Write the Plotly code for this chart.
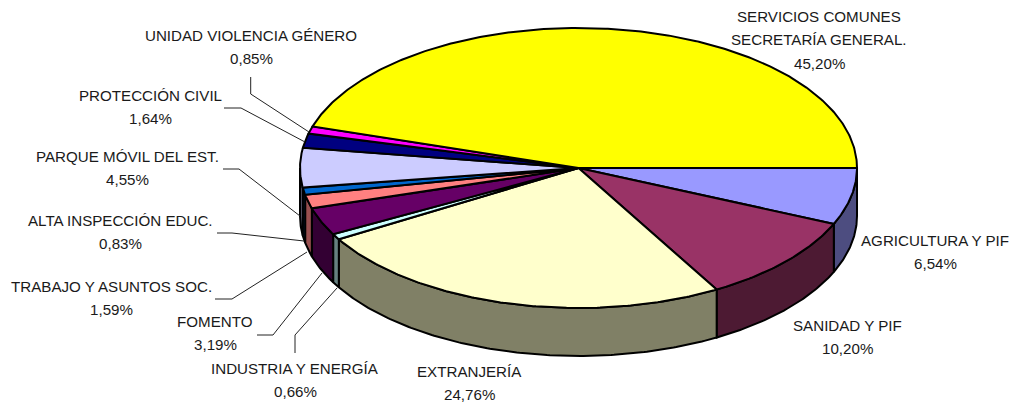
import math
import plotly.graph_objects as go

# Data, clockwise from the 3 o'clock position
categories = ["AGRICULTURA Y PIF", "SANIDAD Y PIF", "EXTRANJERÍA", "INDUSTRIA Y ENERGÍA", "FOMENTO",
              "TRABAJO Y ASUNTOS SOC.", "ALTA INSPECCIÓN EDUC.", "PARQUE MÓVIL DEL EST.",
              "PROTECCIÓN CIVIL", "UNIDAD VIOLENCIA GÉNERO", "SERVICIOS COMUNES|SECRETARÍA GENERAL."]
values = [6.54, 10.20, 24.76, 0.66, 3.19, 1.59, 0.83, 4.55, 1.64, 0.85, 45.20]

top_colors = ["#9999FF", "#993366", "#FFFFCC", "#CCFFFF", "#660066", "#FF8080", "#0066CC", "#CCCCFF",
              "#000080", "#FF00FF", "#FFFF00"]
side_colors = ["#4D4D80", "#4D1A33", "#808066", "#668080", "#330033", "#995050", "#003366", "#666680",
               "#000040", "#800080", "#808000"]

# Pie geometry in picture units
CX, CY, RX, RY, DEPTH = 578.5, 168.0, 278.5, 140.0, 48.0

# Label layout: centre x, y of first line
label_x = [935, 847, 469, 295, 215, 111, 120, 127, 150, 251, 819]
label_y = [240, 325, 371, 368, 321, 286, 220, 156, 95, 35, 16]
LINE_STEP = 23.5

# Leader lines
leaders = [
    [(295, 353), (295, 335), (337, 288)],
    [(257, 335), (273, 335), (322, 273)],
    [(215, 299), (232, 299), (307, 252)],
    [(217, 233), (232, 233), (304, 241)],
    [(223, 169), (239, 169), (300, 216)],
    [(224, 108), (241, 108), (305, 142)],
    [(250.7, 77), (250.7, 94), (309, 132)],
]

total = sum(values)
edges = [0.0]
for v in values:
    edges.append(edges[-1] + v / total * 2 * math.pi)


def arc(a0, a1, dy=0.0):
    n = max(2, int(abs(a1 - a0) / 0.01))
    angs = [a0 + (a1 - a0) * i / n for i in range(n + 1)]
    return ([CX + RX * math.cos(a) for a in angs],
            [CY + RY * math.sin(a) + dy for a in angs])


fig = go.Figure()
outline = dict(color="black", width=2)

# Side walls (only the front half, sin > 0)
for i in range(len(values)):
    a0, a1 = edges[i], min(edges[i + 1], math.pi)
    if a0 >= math.pi:
        continue
    xt, yt = arc(a0, a1)
    xb, yb = arc(a1, a0, DEPTH)
    fig.add_trace(go.Scatter(x=xt + xb + xt[:1], y=yt + yb + yt[:1], mode="lines", fill="toself",
                             fillcolor=side_colors[i], line=outline, hoverinfo="skip", showlegend=False))

# Top faces
for i in range(len(values)):
    xt, yt = arc(edges[i], edges[i + 1])
    fig.add_trace(go.Scatter(x=[CX] + xt + [CX], y=[CY] + yt + [CY], mode="lines", fill="toself",
                             fillcolor=top_colors[i], line=outline, hoverinfo="skip", showlegend=False))

# Leader lines
for pts in leaders:
    fig.add_trace(go.Scatter(x=[p[0] for p in pts], y=[p[1] for p in pts], mode="lines",
                             line=dict(color="#222222", width=1), hoverinfo="skip", showlegend=False))

# Labels
for name, v, lx, ly in zip(categories, values, label_x, label_y):
    lines = name.split("|") + [f"{v:.2f}".replace(".", ",") + "%"]
    for j, t in enumerate(lines):
        fig.add_annotation(x=lx, y=ly + j * LINE_STEP, xref="x", yref="y", text=t, showarrow=False,
                           xanchor="center", yanchor="middle",
                           font=dict(family="Liberation Sans, Arial", size=15.15, color="#1a1a1a"))

fig.update_layout(
    width=1013, height=407, margin=dict(l=0, r=0, t=0, b=0),
    paper_bgcolor="white", plot_bgcolor="white", showlegend=False,
    xaxis=dict(range=[0, 1013], visible=False, fixedrange=True),
    yaxis=dict(range=[407, 0], visible=False, fixedrange=True),
)
fig.write_html("out.html", config=dict(displayModeBar=False),
               post_script="document.body.style.margin='0';")
